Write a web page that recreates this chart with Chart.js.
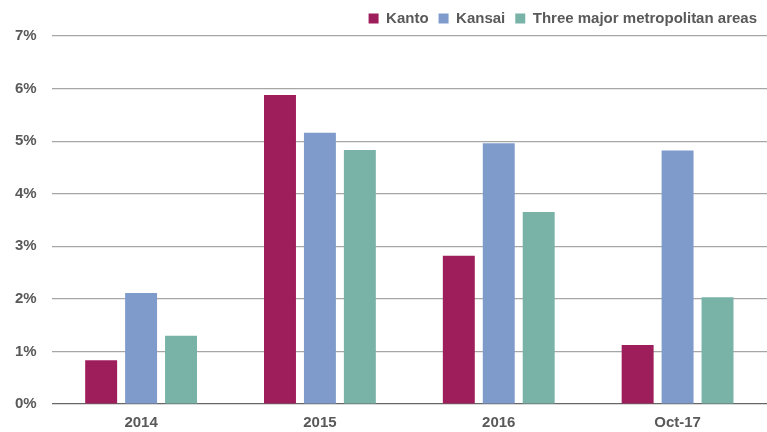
<!DOCTYPE html>
<html>
<head>
<meta charset="utf-8">
<script src="https://cdn.jsdelivr.net/npm/chart.js@4/dist/chart.umd.min.js"></script>
<style>
  html, body { margin: 0; padding: 0; background: #fff; }
  #wrap { width: 767px; height: 432px; }
</style>
</head>
<body>
<div id="wrap"><canvas id="barChart" width="767" height="432"></canvas></div>
<script>
// categories and values (percent)
var periods = ["2014", "2015", "2016", "Oct-17"];
var kanto = [0.83, 5.88, 2.82, 1.12];
var kansai = [2.11, 5.16, 4.96, 4.82];
var threeAreas = [1.30, 4.83, 3.65, 2.03];
var yTicks = [0, 1, 2, 3, 4, 5, 6, 7];

var tickFont = { family: "'Liberation Sans', Arial, sans-serif", size: 15, weight: 'bold' };

var barData = {
    labels: periods,
    datasets: [
        { label: "Kanto", backgroundColor: '#9e1e5b', data: kanto },
        { label: "Kansai", backgroundColor: '#7f9bcc', data: kansai },
        { label: "Three major metropolitan areas", backgroundColor: '#79b3a7', data: threeAreas }
    ]
};

var barOptions = {
    responsive: false,
    animation: false,
    layout: { padding: { left: 0, right: 0, top: 1, bottom: 0 } },
    datasets: { bar: { categoryPercentage: 0.67, barPercentage: 0.8 } },
    plugins: {
        legend: {
            position: 'top',
            align: 'end',
            labels: {
                boxWidth: 10, boxHeight: 10, padding: 10,
                color: '#595959', font: tickFont
            }
        },
        tooltip: { enabled: false }
    },
    scales: {
        x: {
            grid: { display: false, drawTicks: false },
            border: { display: false },
            ticks: { color: '#595959', font: tickFont, padding: 10 },
            afterFit: function (axis) { axis.height = 28; }
        },
        y: {
            min: 0, max: 7,
            afterBuildTicks: function (axis) {
                axis.ticks = yTicks.map(function (v) { return { value: v }; });
            },
            grid: {
                drawTicks: false,
                color: function (ctx) { return ctx.tick && ctx.tick.value === 0 ? '#666666' : '#a6a6a6'; },
                lineWidth: 1.2
            },
            border: { display: false },
            ticks: {
                color: '#595959', font: tickFont, padding: 15,
                callback: function (v) { return v + '%'; }
            }
        }
    }
};

var ctx2 = document.getElementById("barChart").getContext("2d");
new Chart(ctx2, { type: 'bar', data: barData, options: barOptions });
</script>
</body>
</html>
